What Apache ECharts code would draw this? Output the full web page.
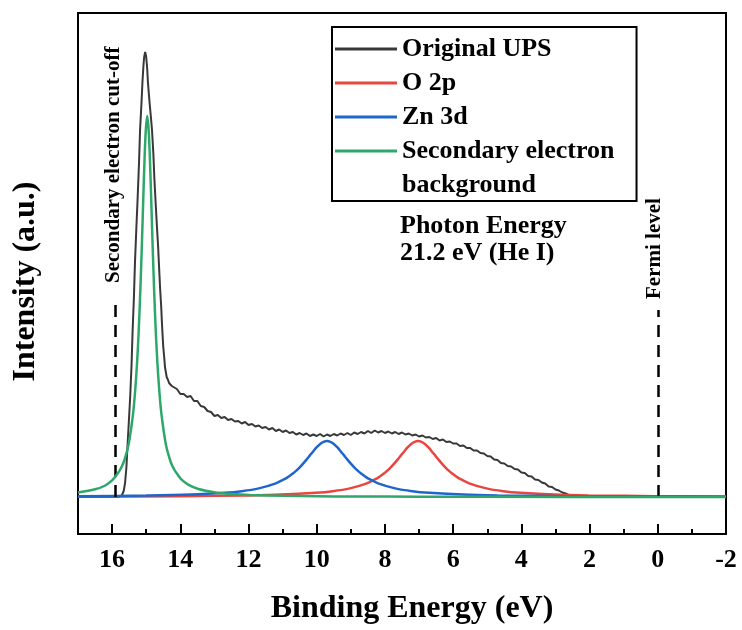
<!DOCTYPE html>
<html><head><meta charset="utf-8">
<script src="https://cdn.jsdelivr.net/npm/echarts@6/dist/echarts.min.js"></script>
<style>html,body{margin:0;padding:0;background:#fff}#c{width:742px;height:630px}</style>
</head><body><div id="c"></div>
<script>
const seriesNames = ['Original UPS', 'O 2p', 'Zn 3d', 'Secondary electron background'];
const seriesColors = ['#383838', '#e8463f', '#1f66cc', '#2ea86a'];
const xRange = [-2, 17];
const yRange = [-37, 484];

// [binding energy (eV), intensity (a.u.)]
const upsData = [
 [17,0],[16.5,0],[16.0,0],[15.8,0],[15.75,1],[15.71,2],[15.66,6],[15.62,14],[15.58,30],[15.55,50],[15.51,75],[15.47,100],
 [15.43,132],[15.40,165],[15.36,200],[15.33,234],[15.29,268],[15.25,300],[15.21,335],[15.18,367],[15.14,393],[15.11,415],
 [15.08,432],[15.06,440],[15.03,445],[15.00,440],[14.97,428],[14.95,415],[14.92,402],[14.89,390],[14.86,379],[14.83,367],
 [14.79,343],[14.76,318],[14.72,292],[14.68,267],[14.65,250],[14.63,235],[14.61,221],[14.59,207],[14.56,190],[14.54,175],
 [14.52,162],[14.50,150],[14.47,139],[14.45,130],[14.42,124],[14.40,120],[14.36,117],[14.33,114],[14.3,113],[14.25,111],[14.2,110],
 [14.1,108],[14.0,103],[13.9,103],[13.8,100],[13.7,101],[13.6,96],[13.5,96],[13.4,91],[13.3,90],[13.2,86],[13.1,85],[13.0,81],
 [12.9,82],[12.8,79],[12.7,80],[12.6,77],[12.5,78],[12.4,75.5],[12.3,76],[12.2,73.5],[12.1,75],[12.0,72],[11.9,73],[11.8,70.5],
 [11.7,71.5],[11.6,69],[11.5,70],[11.4,67.5],[11.3,69],[11.2,66],[11.1,67.5],[11.0,65],[10.9,66.5],[10.8,64],[10.7,65],[10.6,62.5],
 [10.5,64],[10.4,62],[10.3,63.5],[10.2,61],[10.1,62.5],[10.0,61],[9.9,63],[9.8,60.5],[9.7,62.5],[9.6,61],[9.5,63],[9.4,61.5],
 [9.3,63.5],[9.2,62],[9.1,64],[9.0,62],[8.9,64.5],[8.8,63],[8.7,65],[8.6,63.5],[8.5,66],[8.4,64],[8.3,66.5],[8.2,64.5],[8.1,66],
 [8.0,64],[7.9,65.5],[7.8,63.5],[7.7,65],[7.6,63],[7.5,64.5],[7.4,62.5],[7.3,63.5],[7.2,61.5],[7.1,62.5],[7.0,60.5],[6.9,61.5],
 [6.8,59.5],[6.7,60],[6.6,58],[6.5,59],[6.4,56.5],[6.3,57.5],[6.2,55],[6.1,55.5],[6.0,53.5],[5.9,53.5],[5.8,51],[5.7,51.5],
 [5.6,49],[5.5,49],[5.4,46.5],[5.3,46.5],[5.2,44],[5.1,43.5],[5.0,41],[4.9,40.5],[4.8,37.5],[4.7,37],[4.6,34],[4.5,33.5],
 [4.4,31],[4.3,30.5],[4.2,28],[4.1,27.5],[4.0,24.5],[3.9,24],[3.8,21],[3.7,20.5],[3.6,17.5],[3.5,17],[3.4,14.5],[3.3,13.5],
 [3.2,10.5],[3.1,10],[3.0,7.5],[2.9,6.5],[2.8,4.5],[2.7,3.5],[2.6,1.8],[2.5,1.0],[2.4,0.3],[2.2,0],[1.0,0],[0,0],[-1,0],[-2,0]
];
const o2pData = [
 [17,0.4],[14,0.82],[12.03,1.6],[11.03,2.4],[10.03,4.2],[9.53,5.8],[9.03,8.6],[8.53,13.6],[8.23,18.7],[8.13,21],[8.03,23.5],
 [7.93,26.4],[7.83,29.7],[7.73,33.4],[7.63,37.4],[7.53,41.6],[7.43,45.8],[7.33,49.8],[7.23,53.1],[7.13,55.2],[7.03,56],
 [6.93,55.2],[6.83,53.1],[6.73,49.8],[6.63,45.8],[6.53,41.6],[6.43,37.4],[6.33,33.4],[6.23,29.7],[6.13,26.4],[6.03,23.5],
 [5.93,21],[5.83,18.7],[5.53,13.6],[5.03,8.6],[4.53,5.8],[4.03,4.2],[3.03,2.4],[2.03,1.6],[0.03,0.82],[-2,0.5]
];
const zn3dData = [
 [17,0.75],[15,1.45],[13.7,2.4],[12.7,4.2],[12.2,5.8],[11.7,8.6],[11.2,13.6],[10.9,18.7],[10.8,21],[10.7,23.5],[10.6,26.4],
 [10.5,29.7],[10.4,33.4],[10.3,37.4],[10.2,41.6],[10.1,45.8],[10.0,49.8],[9.9,53.1],[9.8,55.2],[9.7,56],[9.6,55.2],[9.5,53.1],
 [9.4,49.8],[9.3,45.8],[9.2,41.6],[9.1,37.4],[9.0,33.4],[8.9,29.7],[8.8,26.4],[8.7,23.5],[8.6,21],[8.5,18.7],[8.2,13.6],
 [7.7,8.6],[7.2,5.8],[6.7,4.2],[5.7,2.4],[4.7,1.6],[2.7,0.8],[0.7,0.5],[-2,0.3]
];
const secData = [
 [17.0,4.4],[16.5,7.7],[16.2,11.5],[16.0,16.6],[15.87,22],[15.77,27],[15.67,34],[15.57,45],[15.52,52],[15.47,62],[15.42,74],
 [15.37,88],[15.32,108],[15.27,133],[15.22,166],[15.17,209],[15.12,260],[15.07,316],[15.02,362],[14.97,381],[14.92,362],
 [14.87,316],[14.82,260],[14.77,209],[14.72,166],[14.67,133],[14.62,108],[14.57,88],[14.52,74],[14.47,62],[14.42,52],
 [14.37,45],[14.27,34],[14.17,27],[14.07,22],[13.97,17.6],[13.77,12.4],[13.47,8],[12.97,4.6],[12.47,2.9],[11.97,2.0],
 [10.97,1.15],[9.97,0.74],[8.97,0.51],[6.97,0.29],[4.97,0.18],[0,0.08],[-2,0.06]
];
const cutoffLine = [[15.9, 0], [15.9, 200]];
const fermiLine = [[0, 0], [0, 187]];
const cutoffText = 'Secondary electron cut-off';
const fermiText = 'Fermi level';
const photonText = 'Photon Energy\n21.2 eV (He I)';
const legendLines = ['Secondary electron', 'background'];

const FF = "'Times New Roman','Liberation Serif',serif";
const chart = echarts.init(document.getElementById('c'), null, {renderer: 'canvas'});
const seriesData = [upsData, o2pData, zn3dData, secData];
const series = seriesData.map((d, i) => ({
  name: seriesNames[i], type: 'line', data: d, xAxisIndex: 0, yAxisIndex: 0,
  showSymbol: false, symbol: 'none', smooth: i === 0 ? false : 0.3,
  lineStyle: {width: i === 0 ? 2 : 2.5, color: seriesColors[i]},
  itemStyle: {color: seriesColors[i]},
  emphasis: {disabled: true}, z: 2 + i
}));
series[0].markLine = {
  silent: true, symbol: ['none', 'none'], label: {show: false}, animation: false,
  lineStyle: {color: '#000', width: 2.5, type: [12, 8]},
  data: [
    [{coord: cutoffLine[0]}, {coord: cutoffLine[1]}],
    [{coord: fermiLine[0]}, {coord: fermiLine[1]}]
  ]
};
chart.setOption({
  animation: false,
  color: seriesColors,
  grid: {left: 78, right: 16, top: 13, bottom: 96, show: true, borderColor: '#000', borderWidth: 2, containLabel: false},
  legend: {
    orient: 'vertical', left: 332, top: 27, padding: [5, 22, 33, 3], itemGap: 0,
    itemWidth: 62, itemHeight: 3, icon: 'rect', borderColor: '#000', borderWidth: 2,
    selectedMode: false,
    textStyle: {fontFamily: FF, fontWeight: 'bold', fontSize: 26, lineHeight: 34, color: '#000'},
    formatter: n => n === seriesNames[3] ? legendLines[0] : n,
    data: seriesNames
  },
  xAxis: [{
    type: 'value', min: xRange[0], max: xRange[1], interval: 2, inverse: true, position: 'bottom',
    axisLine: {show: true, onZero: false, lineStyle: {color: '#000', width: 2}},
    axisTick: {show: true, inside: true, length: 10, lineStyle: {color: '#000', width: 2}},
    axisLabel: {show: true, margin: 13, fontSize: 26, fontWeight: 'bold', fontFamily: FF, color: '#000', showMaxLabel: false, showMinLabel: true},
    splitLine: {show: false},
    name: 'Binding Energy (eV)', nameLocation: 'middle', nameGap: 59,
    nameTextStyle: {fontSize: 32, fontWeight: 'bold', fontFamily: FF, color: '#000', padding: [0, 0, 0, 20]}
  }, {
    type: 'value', min: xRange[0], max: xRange[1], interval: 1, inverse: true, position: 'bottom',
    axisLine: {show: false, onZero: false},
    axisTick: {show: true, inside: true, length: 5, lineStyle: {color: '#000', width: 2}},
    axisLabel: {show: false}, splitLine: {show: false}
  }],
  yAxis: {
    type: 'value', min: yRange[0], max: yRange[1],
    axisLine: {show: false}, axisTick: {show: false}, axisLabel: {show: false}, splitLine: {show: false},
    name: 'Intensity (a.u.)', nameLocation: 'middle', nameGap: 36, nameRotate: 90,
    nameTextStyle: {fontSize: 32, fontWeight: 'bold', fontFamily: FF, color: '#000', padding: [0, 16, 0, 0]}
  },
  series: series
});
const pc = chart.convertToPixel({xAxisIndex: 0, yAxisIndex: 0}, cutoffLine[1]);
const pf = chart.convertToPixel({xAxisIndex: 0, yAxisIndex: 0}, fermiLine[1]);
chart.setOption({
  graphic: [
    {type: 'text', x: pc[0] - 2, y: pc[1] - 14, rotation: Math.PI / 2, silent: true,
     style: {text: cutoffText, fontSize: 21, fontWeight: 'bold', fontFamily: FF, fill: '#000', align: 'left', verticalAlign: 'middle'}},
    {type: 'text', x: pf[0] - 3, y: pf[1] - 11, rotation: Math.PI / 2, silent: true,
     style: {text: fermiText, fontSize: 21, fontWeight: 'bold', fontFamily: FF, fill: '#000', align: 'left', verticalAlign: 'middle'}},
    {type: 'text', left: 402, top: 168, silent: true,
     style: {text: legendLines[1], fontSize: 26, fontWeight: 'bold', fontFamily: FF, fill: '#000', lineHeight: 34}},
    {type: 'text', left: 400, top: 213, silent: true,
     style: {text: photonText, fontSize: 26, fontWeight: 'bold', fontFamily: FF, fill: '#000', lineHeight: 27}}
  ]
});
</script></body></html>
